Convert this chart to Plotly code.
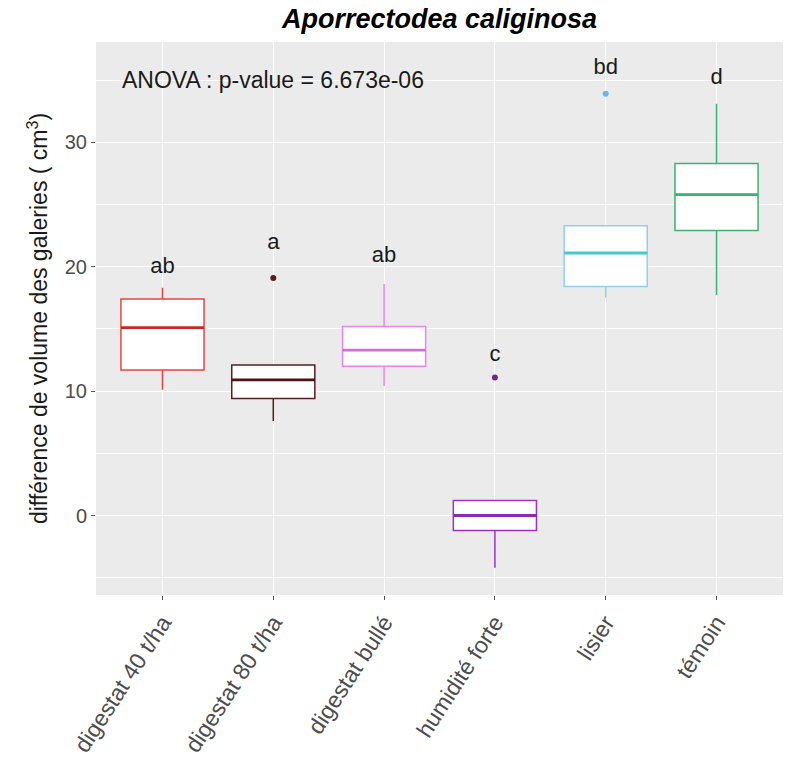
import plotly.graph_objects as go

categories = ["digestat 40 t/ha", "digestat 80 t/ha", "digestat bullé", "humidité forte", "lisier", "témoin"]
q1 = [11.7, 9.4, 12.0, -1.2, 18.4, 22.9]
median = [15.1, 10.9, 13.3, 0.0, 21.1, 25.8]
q3 = [17.4, 12.1, 15.2, 1.2, 23.3, 28.3]
lower_whisker = [10.1, 7.6, 10.4, -4.2, 17.5, 17.7]
upper_whisker = [18.3, 12.1, 18.6, 1.2, 23.3, 33.1]
outlier_idx = [1, 3, 4]
outlier_val = [19.1, 11.1, 33.9]
outlier_col = ["#5a1e1e", "#6a2a8a", "#6ab7f0"]
letters = ["ab", "a", "ab", "c", "bd", "d"]
letter_y = [19.9, 21.9, 20.8, 12.9, 35.9, 35.1]
colors = ["#e8473c", "#5a1e1e", "#ee82ee", "#9932cc", "#8fcff0", "#3cb371"]
median_colors = ["#c8281e", "#4a1414", "#d66ade", "#8a2ab8", "#45c8d0", "#3cb371"]

BOX_W = 0.75
FONT = "Liberation Sans, Arial"
xs = list(range(len(categories)))

fig = go.Figure()
for i in xs:
    fig.add_trace(go.Box(
        x=[i], q1=[q1[i]], median=[median[i]], q3=[q3[i]],
        lowerfence=[lower_whisker[i]], upperfence=[upper_whisker[i]],
        width=BOX_W, fillcolor="white",
        line=dict(color=colors[i], width=1.5),
        boxpoints=False, whiskerwidth=0, showlegend=False, hoverinfo="skip",
    ))
    # thicker median line, like ggplot
    fig.add_trace(go.Scatter(
        x=[i - BOX_W / 2, i + BOX_W / 2], y=[median[i], median[i]], mode="lines",
        line=dict(color=median_colors[i], width=2.8), showlegend=False, hoverinfo="skip",
    ))

fig.add_trace(go.Scatter(
    x=outlier_idx, y=outlier_val, mode="markers",
    marker=dict(color=outlier_col, size=6), showlegend=False, hoverinfo="skip",
))

fig.add_trace(go.Scatter(
    x=xs, y=letter_y, mode="text", text=letters,
    textfont=dict(family=FONT, size=22, color="#1a1a1a"),
    showlegend=False, hoverinfo="skip",
))

fig.add_annotation(
    xref="paper", yref="y", x=0.035, y=35.0, xanchor="left", yanchor="middle",
    text="ANOVA : p-value = 6.673e-06", showarrow=False,
    font=dict(family=FONT, size=23, color="#1a1a1a"),
)

fig.update_layout(
    width=786, height=758,
    paper_bgcolor="white", plot_bgcolor="#ebebeb",
    margin=dict(l=96, r=3, t=42, b=163),
    font=dict(family=FONT, color="#4d4d4d"),
    title=dict(text="<b><i>Aporrectodea caliginosa</i></b>", x=0.5, xref="paper", xanchor="center",
               y=1 - 19 / 758, yanchor="middle",
               font=dict(family=FONT, size=27, color="black")),
    xaxis=dict(
        tickvals=xs, ticktext=categories, automargin=False,
        range=[-0.6, 5.6], showgrid=True, gridcolor="white", gridwidth=1.3,
        ticks="outside", ticklen=4, tickcolor="#555", tickangle=-57,
        tickfont=dict(size=23, color="#4d4d4d"), zeroline=False, showline=False,
    ),
    yaxis=dict(
        range=[-6.39, 38.06], tickvals=[0, 10, 20, 30], automargin=False,
        showgrid=True, gridcolor="white", gridwidth=1.3,
        minor=dict(tickvals=[-5, 5, 15, 25, 35], showgrid=True, gridcolor="white", gridwidth=0.6, ticks=""),
        ticks="outside", ticklen=4, tickcolor="#555",
        tickfont=dict(size=20, color="#4d4d4d"), zeroline=False, showline=False,
        title=dict(text="différence de volume des galeries ( cm<sup>3</sup>)",
                   font=dict(size=23, color="#1a1a1a"), standoff=10),
    ),
)

fig.write_html("out.html", config={"displayModeBar": False},
               post_script="document.body.style.margin='0';document.body.style.overflow='hidden';")
